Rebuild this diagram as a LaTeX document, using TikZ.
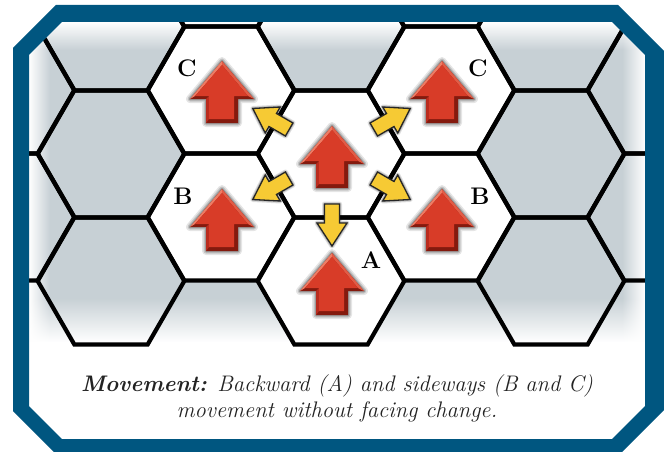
\documentclass[tikz,border=0pt]{standalone}
\usepackage{fontspec}
\usetikzlibrary{fadings}
\definecolor{frameblue}{RGB}{0,86,128}
\definecolor{graybg}{RGB}{199,208,213}
\definecolor{redface}{RGB}{216,60,40}
\definecolor{redlight}{RGB}{238,124,100}
\definecolor{redlightmid}{RGB}{226,92,70}
\definecolor{redmid}{RGB}{186,44,30}
\definecolor{reddark}{RGB}{132,26,14}
\definecolor{yellowarrow}{RGB}{246,202,52}
\definecolor{captiontext}{RGB}{35,35,35}
\tikzfading[name=fadeTopOpaque, top color=transparent!0, bottom color=transparent!100]
\tikzfading[name=fadeBottomOpaque, top color=transparent!100, bottom color=transparent!0]
\tikzfading[name=fadeLeftOpaque, left color=transparent!0, right color=transparent!100]
\tikzfading[name=fadeRightOpaque, left color=transparent!100, right color=transparent!0]
\newcommand\hexcell[2]{(#1,#2) ++(-73.3,0) -- ++(36.65,-63.5) -- ++(73.3,0) -- ++(36.65,63.5) -- ++(-36.65,63.5) -- ++(-73.3,0) -- cycle}
\newcommand\innerframe{(29,55) -- (62,22) -- (612,22) -- (645,55) -- (645,406) -- (612,439) -- (62,439) -- (29,406) -- cycle}
\newcommand\redoutline{(0,-31) -- (32,7) -- (16,7) -- (16,31) -- (-16,31) -- (-16,7) -- (-32,7) -- cycle}
\newcommand\redarrow[2]{%
\begin{scope}[shift={(#1,#2)}]
 \draw[black, opacity=0.10, line width=8pt, line join=round] \redoutline;
 \draw[black, opacity=0.14, line width=5pt, line join=round] \redoutline;
 \draw[black, opacity=0.20, line width=2.5pt, line join=round] \redoutline;
 \fill[reddark] \redoutline;
 \fill[redlight] (0,-31) -- (-32,7) -- (-27,4) -- (0,-27) -- cycle;
 \fill[redlightmid] (0,-31) -- (32,7) -- (26,4) -- (0,-27) -- cycle;
 \fill[redmid] (-16,7) -- (-16,31) -- (-13,27) -- (-13,4) -- cycle;
 \fill[redface] (0,-27) -- (26,4) -- (12,4) -- (12,27) -- (-13,27) -- (-13,4) -- (-27,4) -- cycle;
\end{scope}}
\newcommand\yellowoutline{(-21,-7.5) -- (-2,-7.5) -- (-2,-15) -- (21,0) -- (-2,15) -- (-2,7.5) -- (-21,7.5) -- cycle}
\newcommand\yellowarrow[3]{%
\begin{scope}[shift={(#1,#2)}, rotate=#3]
 \draw[black, opacity=0.12, line width=5pt, line join=round] \yellowoutline;
 \draw[black, opacity=0.18, line width=3pt, line join=round] \yellowoutline;
 \path[fill=yellowarrow, draw=black!85, line width=1.3pt, line join=miter] \yellowoutline;
\end{scope}}
\begin{document}
\begin{tikzpicture}[x=1pt,y=-1pt,
  hexline/.style={draw=black, line width=4.2pt, line join=miter},
  hexlabel/.style={font=\fontsize{24}{24}\selectfont\bfseries, text=black, inner sep=0pt},
  captionline/.style={font=\fontsize{22.5}{27}\selectfont\itshape, text=captiontext, inner sep=0pt, anchor=base}]
\useasboundingbox (0,0) rectangle (664,452);
\fill[white] \innerframe;
\begin{scope}
 \clip \innerframe;
 \fill[graybg] (29,22) rectangle (645,342);
 \fill[white, path fading=fadeTopOpaque] (29,22) rectangle (645,50);
 \fill[white, path fading=fadeLeftOpaque] (29,22) rectangle (50,342);
 \fill[white, path fading=fadeRightOpaque] (622,22) rectangle (645,342);
 \fill[white, path fading=fadeBottomOpaque] (29,298) rectangle (645,342);
 \foreach \x/\y in {221/90,221/217,331/154,331/281,441/90,441/217}
   \fill[white] \hexcell{\x}{\y};
 \foreach \x/\y in {1/-37,1/90,1/217,111/27,111/154,111/281,221/-37,221/90,221/217,
                    331/27,331/154,331/281,441/-37,441/90,441/217,551/27,551/154,551/281,
                    661/-37,661/90,661/217}
   \draw[hexline] \hexcell{\x}{\y};
\end{scope}
% red facing arrows
\redarrow{222}{92}
\redarrow{222}{220}
\redarrow{332}{157}
\redarrow{332}{284}
\redarrow{442}{92}
\redarrow{442}{220}
% yellow movement arrows
\yellowarrow{271}{119}{150}
\yellowarrow{392}{119}{30}
\yellowarrow{271}{189}{210}
\yellowarrow{392}{189}{-30}
\yellowarrow{332}{225}{-90}
% labels
\node[hexlabel] (labCleft) at (187,68) {C};
\node[hexlabel] (labBleft) at (183,196) {B};
\node[hexlabel] (labCright) at (478,68) {C};
\node[hexlabel] (labBright) at (480,196) {B};
\node[hexlabel] (labA) at (371,260) {A};
% caption
\node[captionline] (cap1) at (337,391) {{\bfseries Movement:} Backward (A) and sideways (B and C)};
\node[captionline] (cap2) at (337,417) {movement without facing change.};
% frame
\fill[frameblue, even odd rule] (13,48) -- (56,5) -- (618,5) -- (670,57) -- (670,404) -- (617,457) -- (59,457) -- (13,411) -- cycle
  \innerframe;
\end{tikzpicture}
\end{document}
